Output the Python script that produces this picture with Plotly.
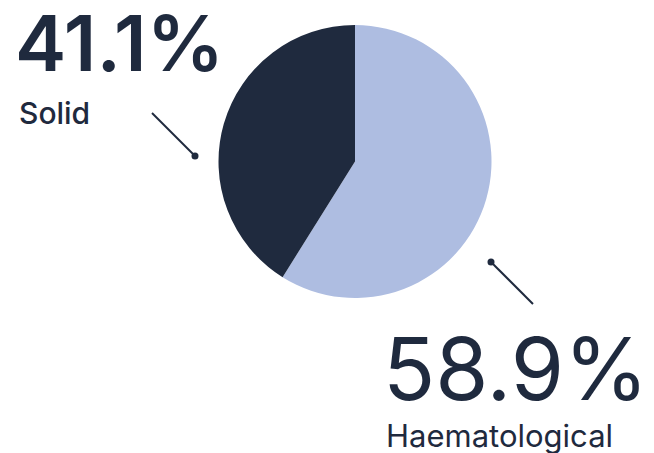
import plotly.graph_objects as go

categories = ["Haematological", "Solid"]
values = [58.9, 41.1]
colors = ["#AEBDE1", "#1F2A3E"]

# page is 654x453; the browser's default body margin is 8px, so the figure is
# drawn 8px smaller and all positions are given in page pixels
PAGE_W, PAGE_H = 654, 453
OFF = 8
W, H = PAGE_W - OFF, PAGE_H - OFF
DARK = "#1F2A3E"
FONT = "Inter"

def px(x):
    return (x - OFF) / W

def py(y):
    return 1 - (y - OFF) / H

fig = go.Figure(go.Pie(
    labels=categories,
    values=values,
    sort=False,
    direction="clockwise",
    rotation=0,
    marker=dict(colors=colors, line=dict(width=0)),
    textinfo="none",
    hoverinfo="label+percent",
    showlegend=False,
    domain=dict(x=[px(218), px(492)], y=[py(298), py(25)]),
))

shapes = []
for (x0, y0, x1, y1) in [(152, 113, 195, 156), (491, 262, 533, 304)]:
    shapes.append(dict(type="line", xref="paper", yref="paper",
                       x0=px(x0), y0=py(y0), x1=px(x1), y1=py(y1),
                       line=dict(color=DARK, width=2)))
for (cx, cy) in [(195, 156), (491, 262)]:
    r = 3.5
    shapes.append(dict(type="circle", xref="paper", yref="paper",
                       x0=px(cx - r), y0=py(cy - r), x1=px(cx + r), y1=py(cy + r),
                       fillcolor=DARK, line=dict(width=0)))

pct_solid = f"{values[1]:.1f}%"
pct_haem = f"{values[0]:.1f}%"

annotations = [
    dict(text=pct_solid, x=px(13), y=py(43), xref="paper", yref="paper",
         xanchor="left", yanchor="middle", showarrow=False, height=70,
         font=dict(family=FONT, size=77, color=DARK, weight=600)),
    dict(text=categories[1], x=px(17), y=py(113), xref="paper", yref="paper",
         xanchor="left", yanchor="middle", showarrow=False,
         font=dict(family=FONT, size=30, color=DARK, weight=500)),
    dict(text=pct_haem, x=px(381), y=py(369), xref="paper", yref="paper",
         xanchor="left", yanchor="middle", showarrow=False, height=76,
         font=dict(family=FONT, size=86, color=DARK, weight=400)),
    dict(text=categories[0], x=px(384), y=py(435), xref="paper", yref="paper",
         xanchor="left", yanchor="middle", showarrow=False,
         font=dict(family=FONT, size=31, color=DARK, weight=400)),
]

fig.update_layout(
    width=W, height=H,
    margin=dict(l=0, r=0, t=0, b=0),
    paper_bgcolor="white",
    plot_bgcolor="white",
    shapes=shapes,
    annotations=annotations,
)

fig.write_html("out.html")
